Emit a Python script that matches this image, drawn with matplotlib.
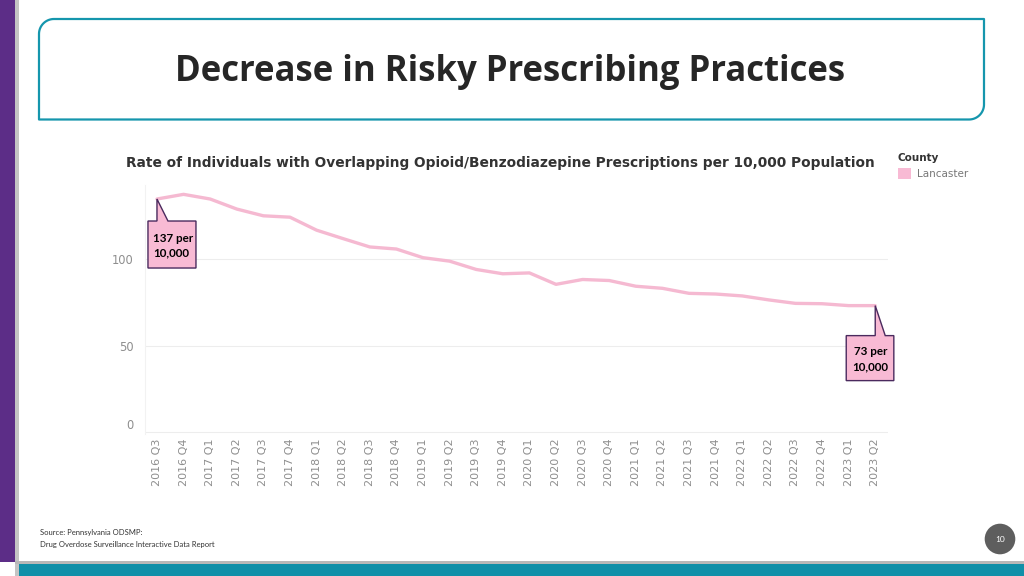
import matplotlib
matplotlib.use("Agg")
import matplotlib.pyplot as plt
from matplotlib.patches import Polygon, Rectangle, Circle
from matplotlib import font_manager
import numpy as np

# ---------------- data ----------------
quarters = ["2016 Q3", "2016 Q4",
            "2017 Q1", "2017 Q2", "2017 Q3", "2017 Q4",
            "2018 Q1", "2018 Q2", "2018 Q3", "2018 Q4",
            "2019 Q1", "2019 Q2", "2019 Q3", "2019 Q4",
            "2020 Q1", "2020 Q2", "2020 Q3", "2020 Q4",
            "2021 Q1", "2021 Q2", "2021 Q3", "2021 Q4",
            "2022 Q1", "2022 Q2", "2022 Q3", "2022 Q4",
            "2023 Q1", "2023 Q2"]
rates = [134.9, 137.6, 134.9, 129.1, 125.2, 124.4, 116.9, 112.0, 107.2, 106.0,
         101.0, 99.0, 94.2, 91.7, 92.2, 85.6, 88.4, 87.8, 84.5, 83.3,
         80.4, 80.0, 78.9, 76.6, 74.6, 74.4, 73.3, 73.3]
y_ticks = [0, 50, 100]
y_tick_labels = ["0", "50", "100"]
slide_title = "Decrease in Risky Prescribing Practices"
chart_title = ("Rate of Individuals with Overlapping Opioid/Benzodiazepine "
               "Prescriptions per 10,000 Population")
legend_title = "County"
series_name = "Lancaster"
first_label = ["137 per", "10,000"]
last_label = ["73 per", "10,000"]
source_lines = ["Source: Pennsylvania ODSMP:",
                "Drug Overdose Surveillance Interactive Data Report"]
page_number = "10"

# ---------------- styles ----------------
PINK_LINE = "#f5b9d1"
PINK_BOX = "#f8bad4"
BOX_EDGE = "#4a2a5e"
TEAL = "#1596ad"
PURPLE = "#5c2d87"

W, H = 1024, 576
fig = plt.figure(figsize=(W / 100, H / 100), dpi=100)
fig.patch.set_facecolor("white")


def fx(x):
    return x / W


def fy(y):
    return 1 - y / H


# ---------------- chart axes ----------------
ax_left, ax_right, ax_top, ax_bottom = 145, 888, 185, 434.2
ax = fig.add_axes([fx(ax_left), fy(ax_bottom), (ax_right - ax_left) / W,
                   (ax_bottom - ax_top) / H], zorder=1)
x = np.arange(len(quarters))
ax.plot(x, rates, color=PINK_LINE, lw=2.4, solid_capstyle="round",
        solid_joinstyle="round", zorder=3)
ax.set_xlim(-0.45, 27.48)
ax.set_ylim(-1, 143)
ax.set_yticks(y_ticks)
ax.set_yticklabels(y_tick_labels)
ax.set_xticks(x)
ax.set_xticklabels(quarters, rotation=90)
ax.tick_params(axis="x", length=0, pad=2.9, labelsize=8, labelcolor="#8e8e8e")
ax.tick_params(axis="y", length=0, pad=8, labelsize=8.3, labelcolor="#8e8e8e")
ax.get_yticklabels()[0].set_verticalalignment("bottom")
ax.grid(axis="y", color="#ededed", lw=0.8)
ax.set_axisbelow(True)
for s in ["top", "right", "bottom"]:
    ax.spines[s].set_visible(False)
ax.spines["left"].set_color("#f2f2f2")
ax.spines["left"].set_linewidth(0.8)
ax.patch.set_alpha(0)

# ---------------- overlay in pixel coords ----------------
ov = fig.add_axes([0, 0, 1, 1], zorder=10)
ov.set_xlim(0, W)
ov.set_ylim(H, 0)
ov.axis("off")
ov.patch.set_alpha(0)

bg = fig.add_axes([0, 0, 1, 1], zorder=0)
bg.set_xlim(0, W)
bg.set_ylim(H, 0)
bg.axis("off")

# slide decorations
bg.add_patch(Rectangle((0, 0), 15, 562, color=PURPLE, lw=0))
bg.add_patch(Rectangle((15, 0), 4, 576, color="#c4c4c4", lw=0))
bg.add_patch(Rectangle((15, 561), 1009, 3.2, color="#b8b8b8", lw=0))
bg.add_patch(Rectangle((19, 564), 1005, 12, color="#0f8fa8", lw=0))

# title box with rounded top-left and bottom-right corners
L, T, R, B, r = 39, 19, 984, 119.5, 15
a1 = np.linspace(np.pi, 1.5 * np.pi, 20)
a2 = np.linspace(0, 0.5 * np.pi, 20)
verts = [(L, B), (L, T + r)]
verts += [(L + r + r * np.cos(a), T + r + r * np.sin(a)) for a in a1]
verts += [(R, T), (R, B - r)]
verts += [(R - r + r * np.cos(a), B - r + r * np.sin(a)) for a in a2]
verts += [(L, B)]
bg.add_patch(Polygon(verts, closed=True, fill=False, edgecolor=TEAL, lw=1.6,
                     joinstyle="round"))
title_fp = font_manager.FontProperties(family="Open Sans", weight="bold",
                                       stretch="normal", size=25)
bg.text(510.5, 80.5, slide_title, fontproperties=title_fp,
        color="#262626", ha="center", va="baseline")

# chart title + legend
bg.text(126, 163, chart_title, fontsize=9.95, fontweight="bold",
        family="DejaVu Sans", color="#333333", ha="left", va="center")
bg.text(897, 158, legend_title, fontsize=7.5, fontweight="bold",
        family="DejaVu Sans", color="#333333", ha="left", va="center")
bg.add_patch(Rectangle((898, 168), 13, 11, color=PINK_BOX, lw=0))
bg.text(917, 174, series_name, fontsize=7.5, family="DejaVu Sans",
        color="#777777", ha="left", va="center")

# source + page number
bg.text(40, 533, source_lines[0], fontsize=5.5, family="Lato",
        color="#333333", ha="left", va="center")
bg.text(40, 544, source_lines[1], fontsize=5.5, family="Lato",
        color="#333333", ha="left", va="center")
bg.add_patch(Circle((1000, 539), 15.3, color="#5e5e5e", lw=0))
bg.text(1000, 539.5, page_number, fontsize=6, family="Lato", color="white",
        ha="center", va="center")


# ---------------- callouts anchored on data points ----------------
def to_px(i, v):
    dx, dy = ax.transData.transform((i, v))
    return dx, H - dy


tx, ty = to_px(0, rates[0])
ov.add_patch(Polygon([(tx, ty), (tx + 11, ty + 22), (tx + 39, ty + 22),
                      (tx + 39, ty + 69), (tx - 9, ty + 69), (tx - 9, ty + 22),
                      (tx, ty + 22)], closed=True, facecolor=PINK_BOX,
                     edgecolor=BOX_EDGE, lw=1.0))
ov.text(tx - 4, ty + 39, first_label[0], fontsize=8.4, fontweight="bold",
        family="Lato", color="black", ha="left", va="center")
ov.text(tx - 4, ty + 53.5, first_label[1], fontsize=8.4, fontweight="bold",
        family="Lato", color="black", ha="left", va="center")

n = len(rates) - 1
tx, ty = to_px(n, rates[n])
ov.add_patch(Polygon([(tx, ty), (tx + 10, ty + 30), (tx + 18.6, ty + 30),
                      (tx + 18.6, ty + 75), (tx - 29, ty + 75),
                      (tx - 29, ty + 30), (tx, ty + 30)], closed=True,
                     facecolor=PINK_BOX, edgecolor=BOX_EDGE, lw=1.0))
ov.text(tx - 5, ty + 46, last_label[0], fontsize=8.4, fontweight="bold",
        family="Lato", color="black", ha="center", va="center")
ov.text(tx - 5, ty + 61, last_label[1], fontsize=8.4, fontweight="bold",
        family="Lato", color="black", ha="center", va="center")

fig.savefig("out.png", dpi=100)
